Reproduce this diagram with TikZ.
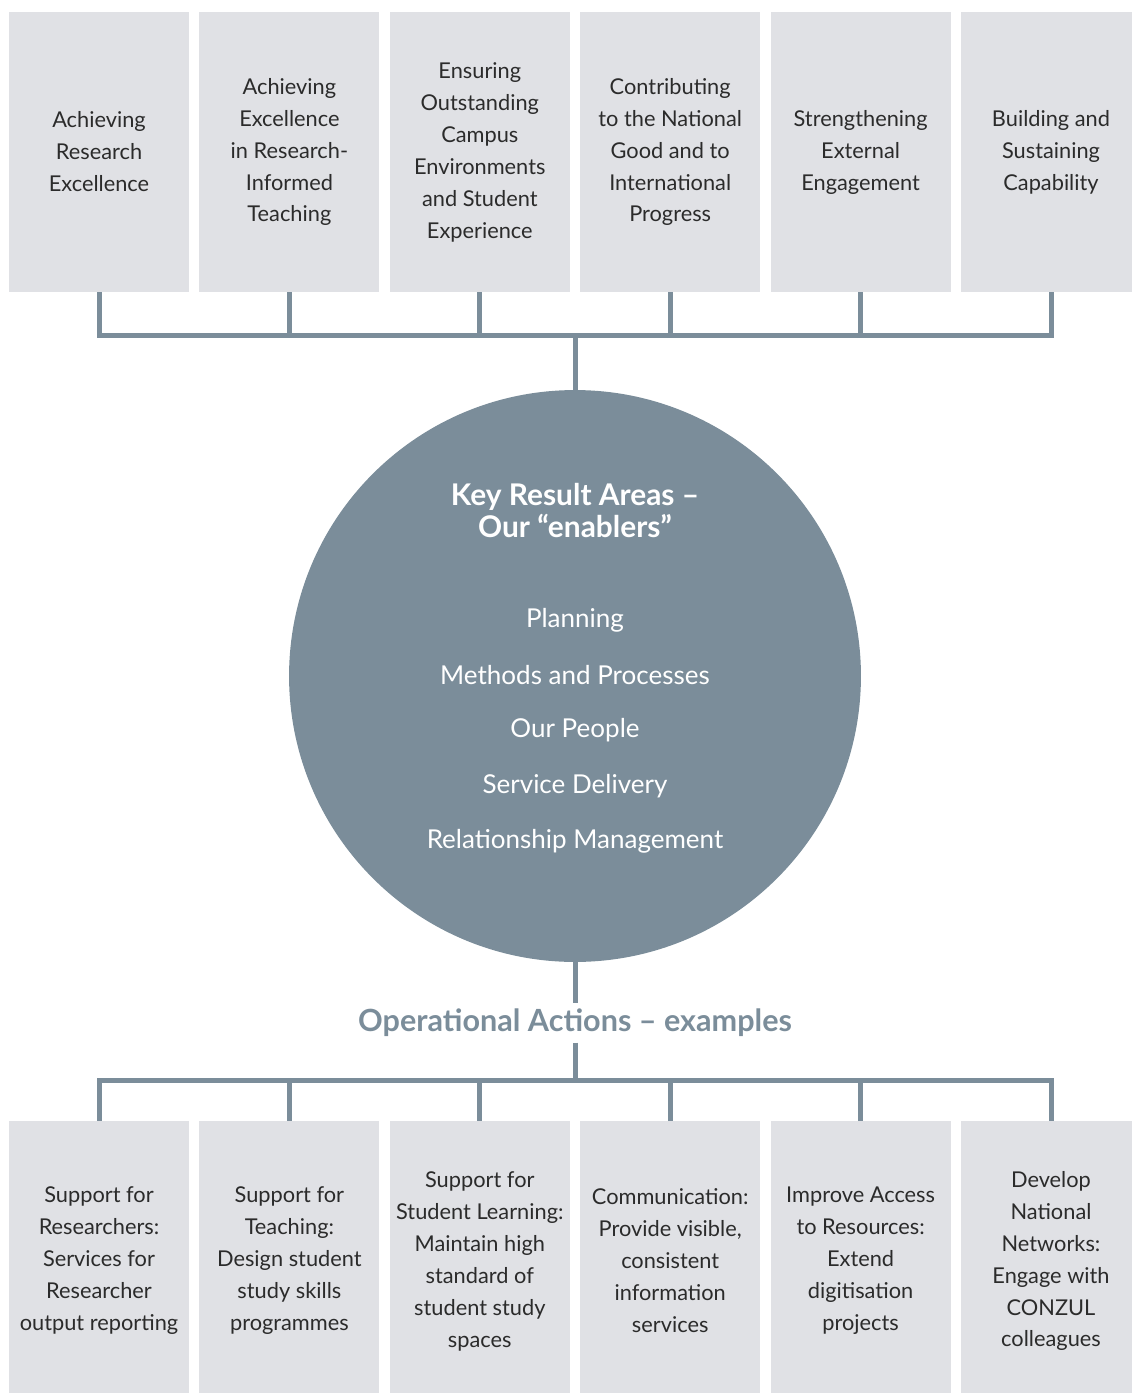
\documentclass[tikz,border=0pt]{standalone}
\usepackage{fontspec}
\setmainfont{Lato}
\usepackage{xcolor}
\usepackage{tikz}
\usetikzlibrary{positioning,calc}
\definecolor{slate}{HTML}{7B8D9A}
\definecolor{boxgrey}{HTML}{E0E1E5}
\definecolor{inkgrey}{HTML}{2B2B2B}

\begin{document}
\begin{tikzpicture}[
    x=0.02cm, y=-0.02cm,
    area/.style={rectangle, fill=boxgrey, minimum width=3.6cm, minimum height=5.6cm, inner sep=0pt, align=center, text=inkgrey, font=\fontsize{12.4}{18.2}\selectfont},
    link/.style={draw=slate, line width=0.1cm},
    enabler/.style={text=white, font=\fontsize{14.8}{18.2}\selectfont}
]
    \useasboundingbox (0,0) rectangle (1132,1393);

    % key result areas
    \foreach \i/\txt in {0/{Achieving\\Research\\Excellence},
                         1/{Achieving\\Excellence\\in Research-\\Informed\\Teaching},
                         2/{Ensuring\\Outstanding\\Campus\\Environments\\and Student\\Experience},
                         3/{Contributing\\to the National\\Good and to\\International\\Progress},
                         4/{Strengthening\\External\\Engagement},
                         5/{Building and\\Sustaining\\Capability}} {
        \node[area] (kra\i) at (99+\i*190.4, 152) {\txt};
    }

    % operational actions
    \foreach \i/\txt in {0/{Support for\\Researchers:\\Services for\\Researcher\\output reporting},
                         1/{Support for\\Teaching:\\Design student\\study skills\\programmes},
                         2/{Support for\\Student Learning:\\Maintain high\\standard of\\student study\\spaces},
                         3/{Communication:\\Provide visible,\\consistent\\information\\services},
                         4/{Improve Access\\to Resources:\\Extend\\digitisation\\projects},
                         5/{Develop\\National\\Networks:\\Engage with\\CONZUL\\colleagues}} {
        \node[area] (act\i) at (99+\i*190.4, 1261) {\txt};
    }

    \node[circle, fill=slate, minimum size=11.44cm, inner sep=0pt] (hub) at (575,676) {};
    \node[text=white, align=center, font=\bfseries\fontsize{17}{18.2}\selectfont] (hubtitle) at (575,511) {Key Result Areas –\\Our “enablers”};
    \foreach \j/\txt in {0/Planning, 1/Methods and Processes, 2/Our People, 3/Service Delivery, 4/Relationship Management} {
        \node[enabler] (en\j) at (575, 620+\j*55.3) {\txt};
    }

    \node[text=slate, inner sep=3pt, font=\bfseries\fontsize{17.4}{18}\selectfont] (ops) at (575,1023) {Operational Actions – examples};

    % connectors
    \coordinate (topbar) at (575,335);
    \coordinate (botbar) at (575,1080);
    \draw[link] (kra0.south) -- (kra0.south |- topbar) -- (kra5.south |- topbar) -- (kra5.south);
    \draw[link] (act0.north) -- (act0.north |- botbar) -- (act5.north |- botbar) -- (act5.north);
    \foreach \i in {1,...,4} {
        \draw[link] (kra\i.south) -- (kra\i.south |- topbar);
        \draw[link] (act\i.north) -- (act\i.north |- botbar);
    }
    \draw[link] (topbar) -- (hub.north);
    \draw[link] (hub.south) -- (ops.north);
    \draw[link] (ops.south) -- (botbar);

\end{tikzpicture}
\end{document}
